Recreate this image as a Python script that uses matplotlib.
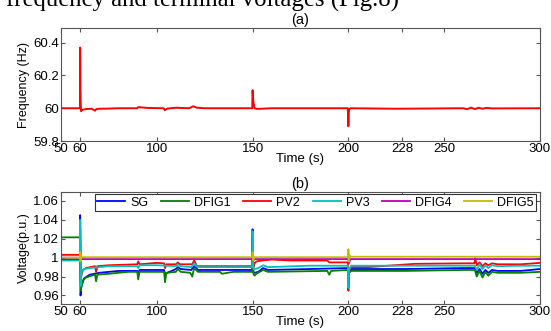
import matplotlib
matplotlib.use("Agg")
import matplotlib.pyplot as plt

# x ticks shared by both panels
xticks = [50, 60, 100, 150, 200, 228, 250, 300]

# (a) frequency (Hz)
freq_t = [50, 59.9, 60.0, 60.15, 60.3, 60.5, 61, 63, 66, 67.8, 68.4, 70, 75, 80,
          89.8, 90.3, 95, 103.6, 104.2, 105.5, 110, 117, 119, 121, 125, 140,
          149.8, 150.0, 150.4, 151, 152.5, 160, 180, 199.7, 200.0, 200.3, 201,
          225, 260, 262, 264, 266, 268, 270, 272, 275, 300]
freq_v = [60.0, 60.0, 60.37, 60.12, 60.02, 59.982, 59.99, 59.995, 59.997, 59.985,
          59.995, 59.997, 59.998, 60.0, 60.0, 60.007, 60.002, 60.0, 59.988, 59.998,
          60.003, 60.0, 60.012, 60.003, 60.0, 60.0, 60.0, 60.11, 60.04, 60.0,
          59.996, 60.0, 60.0, 60.0, 59.89, 59.99, 60.0, 59.997, 60.0, 59.994,
          60.004, 59.995, 60.003, 59.997, 60.002, 59.999, 60.0]

# (b) terminal voltages (p.u.)
sg_t = [50, 59.9, 60.0, 60.2, 60.5, 61, 62, 65, 70, 80, 89.8, 90.3, 91, 100,
        103.8, 104.3, 110, 111, 112.5, 118, 119.5, 121.5, 140, 149.8, 150.0,
        150.4, 151, 153, 155.5, 158, 180, 199.7, 200.0, 200.4, 201.5, 230, 260,
        266, 267, 268.5, 270, 271.5, 273, 275, 278, 290, 300]
sg_v = [0.998, 0.998, 1.045, 0.96, 0.968, 0.972, 0.978, 0.982, 0.984, 0.986, 0.986,
        0.983, 0.987, 0.987, 0.987, 0.983, 0.988, 0.990, 0.988, 0.987, 0.991, 0.987,
        0.987, 0.987, 1.030, 0.985, 0.984, 0.985, 0.989, 0.987, 0.988, 0.989, 0.970,
        0.985, 0.988, 0.988, 0.989, 0.989, 0.984, 0.988, 0.983, 0.987, 0.984, 0.987,
        0.986, 0.986, 0.988]

dfig1_t = [50, 59.9, 60.0, 60.3, 60.7, 61.5, 63, 66, 67.8, 68.3, 69, 75, 85, 89.8,
           90.3, 91, 100, 103.8, 104.3, 105, 110, 111, 112.5, 117.5, 118.5, 119.5,
           121.5, 133, 134, 140, 149.8, 150.0, 150.4, 151, 152, 155.5, 158, 189,
           190, 191, 199.7, 200.0, 200.4, 201.5, 230, 260, 266, 267, 268.5, 270,
           271.5, 273, 275, 278, 290, 300]
dfig1_v = [1.0215, 1.0215, 1.04, 0.965, 0.970, 0.976, 0.979, 0.981, 0.982, 0.975,
           0.982, 0.983, 0.985, 0.985, 0.977, 0.985, 0.985, 0.985, 0.974, 0.984,
           0.985, 0.988, 0.985, 0.984, 0.980, 0.989, 0.985, 0.985, 0.983, 0.985,
           0.985, 1.025, 0.983, 0.981, 0.983, 0.987, 0.985, 0.986, 0.982, 0.986,
           0.987, 0.975, 0.984, 0.986, 0.986, 0.987, 0.987, 0.980, 0.986, 0.979,
           0.985, 0.981, 0.985, 0.984, 0.984, 0.985]

pv2_t = [50, 59.9, 60.0, 60.3, 60.7, 61.5, 63, 67.8, 68.3, 69, 75, 89.8, 90.3, 91,
         100, 103.8, 104.3, 105, 110, 111, 112, 118.5, 119.5, 121, 140, 149.8,
         150.0, 150.4, 151, 152, 155, 160, 170, 189, 190, 199.7, 200.0, 200.4,
         201.5, 210, 235, 260, 265.8, 266.2, 267, 268.5, 270, 271.5, 273, 275,
         278, 290, 300]
pv2_v = [1.003, 1.003, 1.03, 0.975, 0.982, 0.987, 0.989, 0.991, 0.985, 0.991, 0.992,
         0.993, 0.996, 0.993, 0.9945, 0.994, 0.989, 0.993, 0.993, 0.995, 0.993,
         0.993, 0.997, 0.991, 0.991, 0.991, 1.02, 0.990, 0.994, 0.996, 0.997,
         0.998, 0.997, 0.997, 0.995, 0.995, 0.965, 0.986, 0.990, 0.990, 0.9935,
         0.994, 0.994, 0.9995, 0.992, 0.995, 0.991, 0.994, 0.992, 0.994, 0.993,
         0.993, 0.9945]

pv3_t = [50, 59.9, 60.0, 60.3, 60.6, 61, 62, 65, 70, 75, 89.8, 90.3, 91, 100,
         110, 111, 112.5, 118, 119.5, 121.5, 140, 149.8, 150.0, 150.4, 151, 153,
         155.5, 158, 180, 199.7, 200.0, 200.4, 201.5, 230, 260, 266, 267, 268.5,
         270, 271.5, 273, 275, 278, 290, 300]
pv3_v = [0.997, 0.997, 1.04, 0.97, 0.982, 0.986, 0.988, 0.989, 0.990, 0.991, 0.991,
         0.989, 0.992, 0.992, 0.991, 0.993, 0.991, 0.990, 0.994, 0.990, 0.990,
         0.990, 1.028, 0.988, 0.988, 0.989, 0.992, 0.990, 0.9915, 0.9915, 0.968,
         0.988, 0.9915, 0.9915, 0.9915, 0.9915, 0.987, 0.993, 0.988, 0.992, 0.989,
         0.992, 0.991, 0.9915, 0.9915]

dfig4_t = [50, 59.9, 60.0, 60.4, 61, 150, 150.2, 151, 200, 200.3, 201, 300]
dfig4_v = [1.0, 1.0, 0.998, 0.9985, 0.9985, 0.9985, 0.997, 0.9985, 0.9985, 0.994,
           0.9985, 0.9985]

dfig5_t = [50, 59.9, 60.0, 60.2, 60.4, 61, 149.9, 150.0, 150.3, 151, 199.9, 200.0,
           200.2, 200.5, 201, 300]
dfig5_v = [1.0, 1.0, 1.006, 0.996, 1.002, 1.0005, 1.0005, 1.006, 0.997, 1.0005,
           1.0005, 1.009, 0.996, 1.003, 1.001, 1.001]

series = [
    ("SG", sg_t, sg_v, (0, 0, 1)),
    ("DFIG1", dfig1_t, dfig1_v, (0, 0.5, 0)),
    ("PV2", pv2_t, pv2_v, (1, 0, 0)),
    ("PV3", pv3_t, pv3_v, (0, 0.75, 0.75)),
    ("DFIG4", dfig4_t, dfig4_v, (0.75, 0, 0.75)),
    ("DFIG5", dfig5_t, dfig5_v, (0.75, 0.75, 0)),
]

plt.rcParams["font.family"] = ["Liberation Sans", "DejaVu Sans"]
plt.rcParams["font.size"] = 9

fig = plt.figure(figsize=(5.51, 3.31), dpi=100)

# clipped caption line from the page above the figure
fig.text(0.010, 1 - 6.5 / 331, "frequency and terminal voltages (Fig.8)",
         family="Liberation Serif", fontsize=17.8, va="baseline", ha="left")

ax1 = fig.add_axes([0.1107, 0.574, 0.8693, 0.3414])
ax2 = fig.add_axes([0.1107, 0.0816, 0.8693, 0.3384])


def style(ax):
    ax.set_xlim(50, 300)
    ax.set_xticks(xticks)
    ax.tick_params(direction="in", top=True, right=True, length=3,
                   labelsize=9.5, pad=1.5, color="#555555")
    for sp in ax.spines.values():
        sp.set_color("#555555")
        sp.set_linewidth(0.8)
    ax.set_xlabel("Time (s)", fontsize=9.5, labelpad=-1.5)


ax1.plot(freq_t, freq_v, color="red", lw=1.4)
style(ax1)
ax1.set_ylim(59.8, 60.49)
ax1.set_yticks([59.8, 60.0, 60.2, 60.4])
ax1.set_yticklabels(["59.8", "60", "60.2", "60.4"])
ax1.set_ylabel("Frequency (Hz)", fontsize=9, labelpad=2)
ax1.set_title("(a)", fontsize=10.5, pad=3)

for name, t, v, c in series:
    ax2.plot(t, v, color=c, lw=1.3, label=name)
style(ax2)
ax2.set_ylim(0.951, 1.0695)
ax2.set_yticks([0.96, 0.98, 1.0, 1.02, 1.04, 1.06])
ax2.set_yticklabels(["0.96", "0.98", "1", "1.02", "1.04", "1.06"])
ax2.set_ylabel("Voltage(p.u.)", fontsize=9, labelpad=2)
ax2.set_title("(b)", fontsize=10.5, pad=3)
leg = ax2.legend(loc="upper right", bbox_to_anchor=(0.992, 0.98), ncol=6,
                 fontsize=9, handlelength=2.25, handletextpad=0.4,
                 columnspacing=1.0, borderpad=0.2, borderaxespad=0,
                 fancybox=False, framealpha=1)
leg.get_frame().set_edgecolor("#333333")
leg.get_frame().set_linewidth(0.8)

fig.savefig("out.png", dpi=100)
